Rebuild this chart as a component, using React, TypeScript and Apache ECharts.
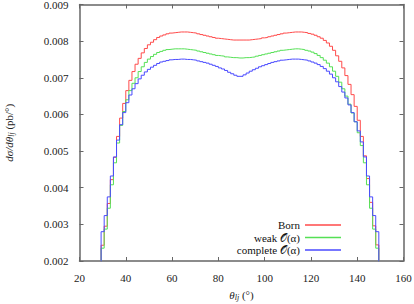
import React, { useEffect, useRef } from "react";
import * as echarts from "echarts";

// Histogram binning (degrees)
const binStart = 29 + 1 / 3;
const binWidth = 4 / 3;

const xTicks = [20, 40, 60, 80, 100, 120, 140, 160];
const yTicks = [0.002, 0.003, 0.004, 0.005, 0.006, 0.007, 0.008, 0.009];

const seriesNames = ["Born", "weak 𝒪(α)", "complete 𝒪(α)"];

const born = [
  0.00243, 0.00295, 0.00357, 0.00422, 0.00483, 0.0054, 0.0059, 0.0063, 0.00665, 0.00693,
  0.00717, 0.00737, 0.00753, 0.00768, 0.0078, 0.0079, 0.00797, 0.00804, 0.0081, 0.00814,
  0.00817, 0.0082, 0.00822, 0.00823, 0.00824, 0.00825, 0.00825, 0.00825, 0.00824, 0.00823,
  0.00822, 0.0082, 0.00818, 0.00816, 0.00814, 0.00812, 0.0081, 0.00808, 0.00807, 0.00806,
  0.00805, 0.00804, 0.00803, 0.00803, 0.00803,
  0.00803, 0.00803, 0.00803, 0.00804, 0.00805, 0.00806, 0.00807, 0.00809, 0.0081, 0.00812,
  0.00814, 0.00816, 0.00818, 0.0082, 0.00822, 0.00823, 0.00824, 0.00825, 0.00825, 0.00825,
  0.00824, 0.00823, 0.00821, 0.00819, 0.00816, 0.00812, 0.00808, 0.00802, 0.00795, 0.00786,
  0.00775, 0.0076, 0.00745, 0.00727, 0.00706, 0.00682, 0.00654, 0.00622, 0.00584, 0.0054,
  0.00487, 0.00425, 0.0036, 0.00296, 0.00244,
];

const weak = [
  0.00235, 0.00287, 0.00344, 0.00408, 0.00468, 0.00522, 0.0057, 0.00608, 0.0064, 0.00665,
  0.00685, 0.007, 0.00717, 0.0073, 0.00742, 0.00751, 0.00758, 0.00764, 0.00769, 0.00772,
  0.00775, 0.00777, 0.00778, 0.00779, 0.00779, 0.00779, 0.00779, 0.00778, 0.00777, 0.00776,
  0.00775, 0.00773, 0.00771, 0.00769, 0.00767, 0.00765, 0.00763, 0.00761, 0.0076, 0.00759,
  0.00757, 0.00756, 0.00755, 0.00755, 0.00754,
  0.00754, 0.00755, 0.00755, 0.00756, 0.00757, 0.00759, 0.00761, 0.00763, 0.00765, 0.00767,
  0.00769, 0.00771, 0.00773, 0.00775, 0.00776, 0.00777, 0.00778, 0.00779, 0.00779, 0.00778,
  0.00777, 0.00775, 0.00773, 0.0077, 0.00766, 0.00761, 0.00755, 0.00748, 0.0074, 0.0073,
  0.00718, 0.00704, 0.00688, 0.0067, 0.0065, 0.00628, 0.00604, 0.0058, 0.0055, 0.00515,
  0.00468, 0.00408, 0.00344, 0.00287, 0.00235,
];

const complete = [
  0.0028, 0.00324, 0.00375, 0.00432, 0.00484, 0.0053, 0.00572, 0.00605, 0.00632, 0.00653,
  0.0067, 0.00684, 0.00697, 0.00707, 0.00716, 0.00723, 0.00729, 0.00734, 0.00739, 0.00743,
  0.00745, 0.00747, 0.00749, 0.0075, 0.0075, 0.00751, 0.00751, 0.0075, 0.0075, 0.00749,
  0.00748, 0.00746, 0.00744, 0.00742, 0.0074, 0.00737, 0.00734, 0.00731, 0.00727, 0.00724,
  0.0072, 0.00715, 0.00711, 0.00707, 0.00704,
  0.00704, 0.00708, 0.00713, 0.00718, 0.00722, 0.00726, 0.0073, 0.00733, 0.00736, 0.00739,
  0.00742, 0.00744, 0.00746, 0.00748, 0.00749, 0.0075, 0.00751, 0.00751, 0.00751, 0.0075,
  0.00749, 0.00748, 0.00746, 0.00743, 0.0074, 0.00736, 0.00731, 0.00725, 0.00718, 0.0071,
  0.007, 0.00689, 0.00676, 0.00661, 0.00645, 0.00626, 0.00605, 0.0058, 0.00555, 0.00525,
  0.00484, 0.00432, 0.00375, 0.00324, 0.0028,
];

const colors = ["#ff4a4a", "#55e055", "#4a4aff"];

function histPoints(vals: number[]): number[][] {
  const pts: number[][] = [[binStart, 0]];
  vals.forEach((v, i) => pts.push([binStart + i * binWidth, v]));
  const end = binStart + vals.length * binWidth;
  pts.push([end, vals[vals.length - 1]]);
  pts.push([end, 0]);
  return pts;
}

const FONT = "'Liberation Serif', 'DejaVu Serif', serif";
const AXIS_COLOR = "#666";

export default function App() {
  const ref = useRef<HTMLDivElement>(null);
  useEffect(() => {
    if (!ref.current) return;
    const chart = echarts.init(ref.current, undefined, { renderer: "svg" });
    const xMin = xTicks[0];
    const xMax = xTicks[xTicks.length - 1];
    const xInt = xTicks[1] - xTicks[0];
    const yMin = yTicks[0];
    const yMax = yTicks[yTicks.length - 1];
    const yInt = 0.001;
    const baseAxis = {
      axisLine: { show: true, lineStyle: { color: AXIS_COLOR, width: 1.5 } },
      axisTick: { show: true, inside: true, length: 4, lineStyle: { color: AXIS_COLOR, width: 1 } },
      splitLine: { show: false },
    };
    const dataSets = [born, weak, complete];
    chart.setOption({
      animation: false,
      backgroundColor: "#fff",
      textStyle: { fontFamily: FONT },
      grid: {
        left: 79.5,
        right: 10.5,
        top: 4.5,
        bottom: 43,
        containLabel: false,
        outerBoundsMode: "none",
      },
      legend: {
        data: seriesNames,
        orient: "vertical",
        right: 68,
        top: 214,
        align: "right",
        itemWidth: 36,
        itemHeight: 1.5,
        itemGap: 0.5,
        icon: "rect",
        textStyle: { fontFamily: FONT, fontSize: 11, color: "#111", lineHeight: 12 },
      },
      xAxis: [
        {
          type: "value",
          min: xMin,
          max: xMax,
          interval: xInt,
          position: "bottom",
          ...baseAxis,
          axisLabel: { fontFamily: FONT, fontSize: 11, color: "#222", margin: 11 },
          name: "{t|θ}{s|lj} (°)",
          nameLocation: "middle",
          nameGap: 27,
          nameTextStyle: {
            fontFamily: FONT,
            fontSize: 11,
            color: "#222",
            rich: {
              t: { fontFamily: FONT, fontStyle: "italic", fontSize: 11, color: "#222" },
              s: { fontFamily: FONT, fontStyle: "italic", fontSize: 8, color: "#222", padding: [5, 0, 0, 0] },
            },
          },
        },
        {
          type: "value",
          min: xMin,
          max: xMax,
          interval: xInt,
          position: "top",
          ...baseAxis,
          axisLabel: { show: false },
        },
      ],
      yAxis: [
        {
          type: "value",
          min: yMin,
          max: yMax,
          interval: yInt,
          position: "left",
          ...baseAxis,
          axisLabel: {
            fontFamily: FONT,
            fontSize: 11,
            color: "#222",
            margin: 11,
            formatter: (v: number) => v.toFixed(3),
          },
          name: "{i|dσ/dθ}{s|lj} (pb/°)",
          nameLocation: "middle",
          nameGap: 64,
          nameRotate: 90,
          nameTextStyle: {
            fontFamily: FONT,
            fontSize: 11,
            color: "#222",
            rich: {
              i: { fontFamily: FONT, fontStyle: "italic", fontSize: 11, color: "#222" },
              s: { fontFamily: FONT, fontStyle: "italic", fontSize: 8, color: "#222", padding: [5, 0, 0, 0] },
            },
          },
        },
        {
          type: "value",
          min: yMin,
          max: yMax,
          interval: yInt,
          position: "right",
          ...baseAxis,
          axisLabel: { show: false },
        },
      ],
      series: dataSets.map((vals, k) => ({
        name: seriesNames[k],
        type: "line",
        step: "end",
        xAxisIndex: 0,
        yAxisIndex: 0,
        showSymbol: false,
        symbol: "none",
        clip: true,
        color: colors[k],
        lineStyle: { color: colors[k], width: 1 },
        data: histPoints(vals),
      })),
    });
    return () => chart.dispose();
  }, []);
  return (
    <div
      ref={ref}
      style={{ position: "absolute", left: 0, top: 0, width: 414, height: 304 }}
    />
  );
}
